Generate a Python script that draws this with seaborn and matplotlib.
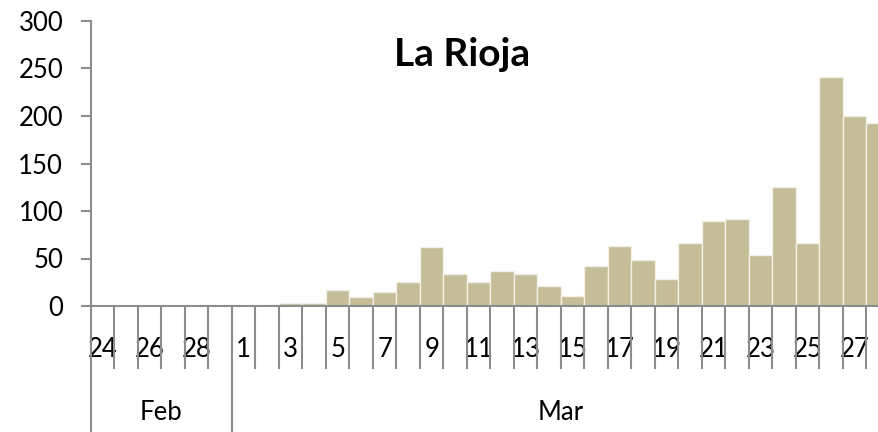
import numpy as np
import pandas as pd
import seaborn as sns
import matplotlib.pyplot as plt
from matplotlib.transforms import blended_transform_factory

# Daily values (Feb 24 - Mar 28)
months = ["Feb"] * 6 + ["Mar"] * 28
days = [24, 25, 26, 27, 28, 29] + list(range(1, 29))
cases = [0, 0, 0, 0, 0, 0,
         0, 1, 3, 3, 17, 9, 15, 25, 62, 34, 25, 37, 34, 21, 11, 42,
         63, 48, 28, 66, 89, 92, 54, 125, 66, 241, 200, 193]

df = pd.DataFrame({"month": months, "day": days, "cases": cases})
df["label"] = df["month"] + " " + df["day"].astype(str)

sns.set_style("white")
plt.rcParams["font.family"] = ["Lato", "DejaVu Sans"]
plt.rcParams["text.color"] = "black"
plt.rcParams["xtick.labelcolor"] = "black"
plt.rcParams["ytick.labelcolor"] = "black"

fig = plt.figure(figsize=(8.79, 4.32), dpi=100)
# axes runs a little past the right edge, like the cropped original
ax = fig.add_axes([91 / 879, 1 - 306 / 432, 799 / 879, 285 / 432])

sns.barplot(data=df, x="label", y="cases", color="#C4BD97", saturation=1,
            width=1.0, edgecolor="#F2F0E6", linewidth=1, ax=ax)

n = len(df)
ax.set_xlim(-0.5, n - 0.5)
ax.set_ylim(0, 300)
ax.set_yticks(np.arange(0, 301, 50))
ax.set_xlabel("")
ax.set_ylabel("")

fs = 18.5
grey = "#8C8C8C"
for side in ["top", "right"]:
    ax.spines[side].set_visible(False)
for side in ["left", "bottom"]:
    ax.spines[side].set_color(grey)
    ax.spines[side].set_linewidth(1.5)

# day labels every second day, tick lines between days
ax.set_xticks(np.arange(0, n, 2))
ax.set_xticklabels(df["day"].iloc[::2].astype(str))
ax.set_xticks(np.arange(-0.5, n, 1), minor=True)
ax.tick_params(axis="x", which="major", length=0, pad=22, labelsize=fs,
               labelcolor="black")
ax.tick_params(axis="x", which="minor", length=45, width=1.5, color=grey,
               direction="out", bottom=True)
ax.tick_params(axis="y", length=7, width=1.5, color=grey, pad=13,
               labelsize=fs, left=True, labelcolor="black")

# month group separators and labels
trans = blended_transform_factory(ax.transData, ax.transAxes)
n_feb = months.count("Feb")
for xb in [-0.5, n_feb - 0.5, n - 0.5]:
    ax.plot([xb, xb], [-0.221, -0.6], color=grey, lw=1.5,
            transform=trans, clip_on=False)
ax.text((n_feb - 1) / 2, -0.372, "Feb", transform=trans, ha="center",
        va="center", fontsize=fs, color="black")
ax.text((n_feb - 0.5 + n - 0.5) / 2, -0.372, "Mar", transform=trans,
        ha="center", va="center", fontsize=fs, color="black")

fig.text(462 / 879, 1 - 55 / 432, "La Rioja", ha="center", va="center",
         fontsize=28, fontweight="bold", color="black")

fig.savefig("out.png", dpi=100)
